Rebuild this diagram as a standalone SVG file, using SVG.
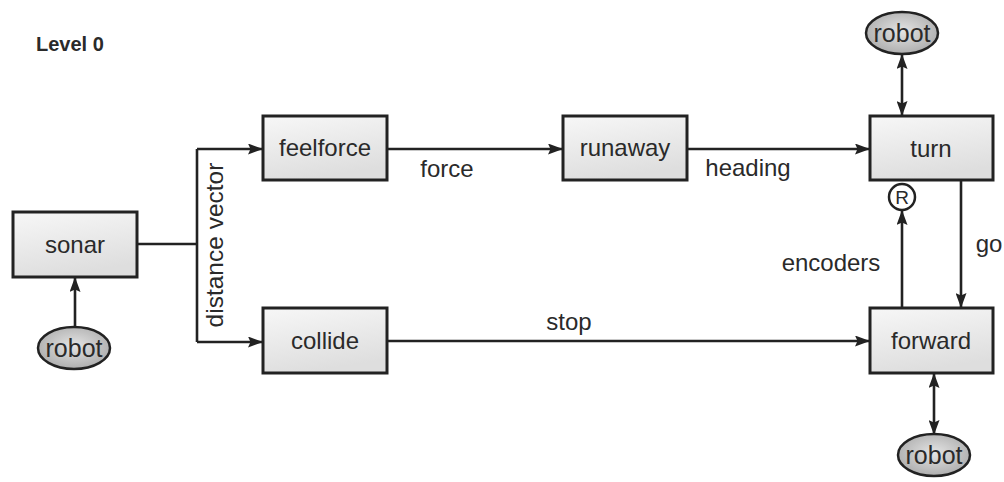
<svg xmlns="http://www.w3.org/2000/svg" width="1004" height="482" viewBox="0 0 1004 482">
  <defs>
    <linearGradient id="boxFill" x1="0" y1="0" x2="0.3" y2="1">
      <stop offset="0" stop-color="#f7f7f7"/>
      <stop offset="1" stop-color="#dedede"/>
    </linearGradient>
    <radialGradient id="robotFill" cx="0.5" cy="0.45" r="0.6">
      <stop offset="0" stop-color="#e4e4e4"/>
      <stop offset="1" stop-color="#a9a9a9"/>
    </radialGradient>
    <marker id="arrow" viewBox="0 0 15 11" refX="14" refY="5.5" markerWidth="15" markerHeight="11" markerUnits="userSpaceOnUse" orient="auto-start-reverse">
      <path d="M0,0 L15,5.5 L0,11 L2.5,5.5 z" fill="#222"/>
    </marker>
    <style>
      .box { fill: url(#boxFill); stroke: #222; stroke-width: 3; }
      .robot { fill: url(#robotFill); stroke: #222; stroke-width: 2.5; }
      .lbl { font-family: "Liberation Sans", Arial, sans-serif; font-size: 24px; fill: #2a2a2a; text-anchor: middle; }
      .title { font-family: "Liberation Sans", Arial, sans-serif; font-size: 20px; font-weight: bold; fill: #2a2a2a; }
      .wire { fill: none; stroke: #222; stroke-width: 2.6; }
      .to { marker-end: url(#arrow); }
      .both { marker-start: url(#arrow); marker-end: url(#arrow); }
    </style>
  </defs>

  <rect width="1004" height="482" fill="#ffffff"/>

  <text class="title" x="36" y="51">Level 0</text>

  <!-- connectors -->
  <g id="connectors">
    <path class="wire" d="M137,244 H197"/>
    <path class="wire" d="M197,149 V342"/>
    <path class="wire to" d="M197,149 H262"/>
    <path class="wire to" d="M197,342 H262"/>
    <path class="wire to" d="M387,149 H562"/>
    <path class="wire to" d="M687,149 H869"/>
    <path class="wire to" d="M387,341 H869"/>
    <path class="wire to" d="M75,327 V278"/>
    <path class="wire both" d="M902,55 V115"/>
    <path class="wire both" d="M934,374 V434"/>
    <path class="wire to" d="M961,180 V307"/>
    <path class="wire to" d="M902,308 V211"/>
    <text class="lbl" x="447" y="177">force</text>
    <text class="lbl" x="748" y="176">heading</text>
    <text class="lbl" x="569" y="330">stop</text>
    <text class="lbl" x="831" y="271">encoders</text>
    <text class="lbl" x="989" y="252">go</text>
    <text class="lbl" transform="translate(223,245) rotate(-90)" x="0" y="0" style="font-size:24.5px">distance vector</text>
  </g>

  <g id="sonar">
    <rect class="box" x="13" y="212" width="124" height="65"/>
    <text class="lbl" x="75" y="253">sonar</text>
  </g>
  <g id="feelforce">
    <rect class="box" x="263" y="116" width="124" height="64"/>
    <text class="lbl" x="325" y="156">feelforce</text>
  </g>
  <g id="runaway">
    <rect class="box" x="563" y="116" width="124" height="64"/>
    <text class="lbl" x="625" y="156">runaway</text>
  </g>
  <g id="turn">
    <rect class="box" x="870" y="116" width="123" height="64"/>
    <text class="lbl" x="931" y="157">turn</text>
  </g>
  <g id="collide">
    <rect class="box" x="263" y="308" width="124" height="65"/>
    <text class="lbl" x="325" y="349">collide</text>
  </g>
  <g id="forward">
    <rect class="box" x="870" y="308" width="123" height="65"/>
    <text class="lbl" x="931" y="349">forward</text>
  </g>
  <g id="reset">
    <circle cx="902" cy="197" r="13" fill="#ffffff" stroke="#222" stroke-width="2.5"/>
    <text class="lbl" x="902" y="204" style="font-size:19px">R</text>
  </g>
  <g id="robot-sonar">
    <ellipse class="robot" cx="74" cy="348" rx="36" ry="21"/>
    <text class="lbl" x="74" y="357" style="font-size:25px">robot</text>
  </g>
  <g id="robot-turn">
    <ellipse class="robot" cx="902" cy="33" rx="36" ry="21"/>
    <text class="lbl" x="902" y="42" style="font-size:25px">robot</text>
  </g>
  <g id="robot-forward">
    <ellipse class="robot" cx="934" cy="455" rx="36" ry="21"/>
    <text class="lbl" x="934" y="464" style="font-size:25px">robot</text>
  </g>
</svg>
